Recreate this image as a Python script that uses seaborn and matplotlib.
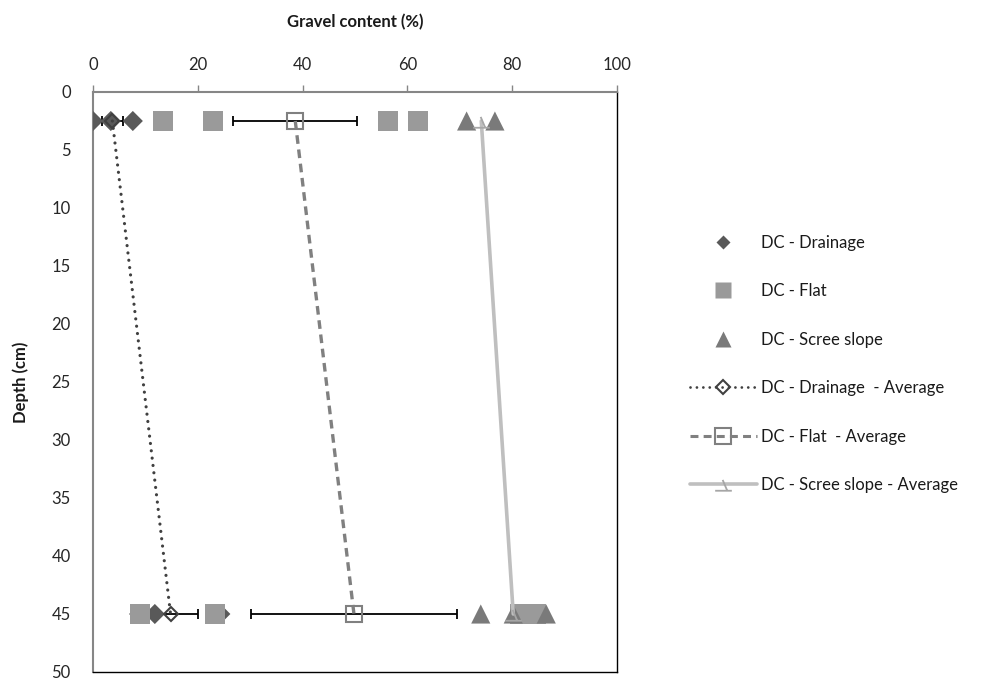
import matplotlib
matplotlib.use("Agg")
import matplotlib.pyplot as plt
import seaborn as sns
import pandas as pd
from matplotlib.lines import Line2D
from matplotlib.path import Path

# ---------------- data ----------------
depth_levels = [2.5, 45]

drainage_depth = [2.5, 2.5, 2.5, 45, 45, 45]
drainage_gravel = [0.0, 3.4, 7.6, 8.8, 11.8, 24.3]

flat_depth = [2.5, 2.5, 2.5, 2.5, 45, 45, 45, 45]
flat_gravel = [13.3, 22.9, 56.3, 62.0, 9.0, 23.3, 81.5, 84.5]

scree_depth = [2.5, 2.5, 45, 45, 45]
scree_gravel = [71.3, 76.7, 74.0, 80.2, 86.5]

drainage_avg = [3.7, 14.8]
drainage_err = [2.05, 5.3]
flat_avg = [38.6, 49.8]
flat_err = [11.8, 19.6]
scree_avg = [74.1, 80.2]

x_ticks = [0, 20, 40, 60, 80, 100]
y_ticks = [0, 5, 10, 15, 20, 25, 30, 35, 40, 45, 50]

labels = ["DC - Drainage", "DC - Flat", "DC - Scree slope",
          "DC - Drainage  - Average", "DC - Flat  - Average",
          "DC - Scree slope - Average"]

# ---------------- style ----------------
sns.set_theme(style="white")
plt.rcParams["font.family"] = ["Lato", "DejaVu Sans"]

c_drain = "#595959"
c_flat = "#9a9a9a"
c_scree = "#7a7a7a"
c_drain_avg = "#404040"
c_flat_avg = "#808080"
c_scree_avg = "#bfbfbf"

scree_marker = Path([(-1, -0.75), (1, -0.75), (-0.1, 0.55), (0.45, -0.75)],
                    [Path.MOVETO, Path.LINETO, Path.MOVETO, Path.LINETO])

fig = plt.figure(figsize=(9.92, 6.85), dpi=100)
ax = fig.add_axes([93 / 992, 1 - 672 / 685, (617 - 93) / 992, (672 - 92) / 685])

df_d = pd.DataFrame({"gravel": drainage_gravel, "depth": drainage_depth})
df_f = pd.DataFrame({"gravel": flat_gravel, "depth": flat_depth})
df_s = pd.DataFrame({"gravel": scree_gravel, "depth": scree_depth})

ax.errorbar(drainage_avg, depth_levels, xerr=drainage_err, fmt="none",
            ecolor="black", elinewidth=1.3, capsize=3.8, capthick=1.3, zorder=2)
ax.errorbar(flat_avg, depth_levels, xerr=flat_err, fmt="none",
            ecolor="black", elinewidth=1.3, capsize=3.8, capthick=1.3, zorder=2)

sns.scatterplot(data=df_d, x="gravel", y="depth", marker="D", s=105,
                color=c_drain, edgecolor="none", ax=ax, zorder=3)
sns.scatterplot(data=df_f, x="gravel", y="depth", marker="s", s=200,
                color=c_flat, edgecolor="none", ax=ax, zorder=3)
sns.scatterplot(data=df_s, x="gravel", y="depth", marker="^", s=190,
                color=c_scree, edgecolor="none", ax=ax, zorder=3)

ax.plot(drainage_avg, depth_levels, linestyle=(0, (0.01, 2.3)), lw=2.3,
        dash_capstyle="round", color=c_drain_avg, marker="D", ms=7.5,
        mfc="none", mec=c_drain_avg, mew=1.5, zorder=4)
ax.plot(flat_avg, depth_levels, linestyle=(0, (2.6, 1.7)), lw=2.4,
        color=c_flat_avg, marker="s", ms=11, mfc="none", mec=c_flat_avg,
        mew=1.5, zorder=4)
ax.plot(scree_avg, depth_levels, linestyle="-", lw=2.6, color=c_scree_avg,
        marker=scree_marker, ms=12, mfc="none", mec="#a6a6a6", mew=1.3,
        zorder=4)

ax.set_xlim(0, 100)
ax.set_ylim(50, 0)
ax.set_xticks(x_ticks)
ax.set_yticks(y_ticks)
ax.xaxis.tick_top()
ax.xaxis.set_label_position("top")
ax.set_xlabel("Gravel content (%)", fontsize=12, fontweight="bold",
              color="#1a1a1a", labelpad=21)
ax.set_ylabel("Depth (cm)", fontsize=12, fontweight="bold",
              color="#1a1a1a", labelpad=16)
ax.tick_params(axis="both", which="major", direction="out", length=5,
               width=1, color="#868686", labelsize=12, labelcolor="#262626")
ax.tick_params(axis="x", pad=9)
ax.tick_params(axis="y", pad=11)

for side in ["left", "top"]:
    ax.spines[side].set_color("#868686")
    ax.spines[side].set_linewidth(1.5)
for side in ["right", "bottom"]:
    ax.spines[side].set_color("black")
    ax.spines[side].set_linewidth(1.0)
ax.grid(False)

handles = [
    Line2D([], [], linestyle="none", marker="D", ms=7.5, color=c_drain, mec="none"),
    Line2D([], [], linestyle="none", marker="s", ms=11, color=c_flat, mec="none"),
    Line2D([], [], linestyle="none", marker="^", ms=11, color=c_scree, mec="none"),
    Line2D([], [], linestyle=(0, (0.01, 2.3)), lw=2.0, dash_capstyle="round",
           color=c_drain_avg, marker="D", ms=7.5, mfc="none", mec=c_drain_avg, mew=1.5),
    Line2D([], [], linestyle=(0, (2.6, 1.7)), lw=2.2, color=c_flat_avg,
           marker="s", ms=11, mfc="none", mec=c_flat_avg, mew=1.5),
    Line2D([], [], linestyle="-", lw=2.6, color=c_scree_avg, marker=scree_marker,
           ms=12, mfc="none", mec="#a6a6a6", mew=1.3),
]
fig.legend(handles, labels, loc="center left", bbox_to_anchor=(690 / 992, 1 - 364 / 685),
           frameon=False, fontsize=12, handlelength=4.0, handletextpad=0.25,
           labelspacing=1.95, borderaxespad=0, borderpad=0, labelcolor="#1a1a1a")

fig.savefig("out.png", dpi=100)
